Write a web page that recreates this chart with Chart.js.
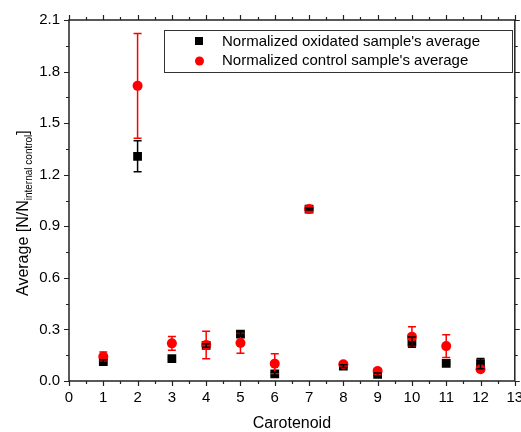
<!DOCTYPE html>
<html lang="en">
<head>
  <meta charset="UTF-8">
  <title>Carotenoid averages</title>
  <script src="https://cdn.jsdelivr.net/npm/chart.js"></script>
  <style>
    html, body { margin: 0; padding: 0; background: #fff; }
    #wrap { width: 521px; height: 432px; }
  </style>
</head>
<body>
<div id="wrap"><canvas id="chart" width="521" height="432"></canvas></div>
<script>
  const carotenoids = [1, 2, 3, 4, 5, 6, 7, 8, 9, 10, 11, 12];
  const oxidated    = [0.113, 1.307, 0.130, 0.207, 0.273, 0.041, 1.000, 0.087, 0.039, 0.226, 0.103, 0.101];
  const oxidatedErr = [0.010, 0.090, 0.006, 0.010, 0.012, 0.010, 0.005, 0.008, 0.008, 0.030, 0.006, 0.030];
  const control     = [0.143, 1.717, 0.219, 0.210, 0.221, 0.101, 1.000, 0.097, 0.058, 0.258, 0.203, 0.068];
  const controlErr  = [0.025, 0.305, 0.040, 0.080, 0.060, 0.058, 0.005, 0.010, 0.015, 0.058, 0.066, 0.005];
  const legendLabels = ["Normalized oxidated sample's average", "Normalized control sample's average"];

  const FONT = 'Arial, "Liberation Sans", sans-serif';

  const toPoints = (ys) => carotenoids.map((x, i) => ({ x: x, y: ys[i] }));

  // error bars, minor ticks, frame, titles and legend
  const decor = {
    id: 'decor',
    afterDatasetsDraw(chart) {
      const ctx = chart.ctx, xs = chart.scales.x, ys = chart.scales.y;
      const sets = [
        { vals: control, errs: controlErr, color: '#ff0000' },
        { vals: oxidated, errs: oxidatedErr, color: '#000000' }
      ];
      ctx.save();
      ctx.lineWidth = 1.5;
      sets.forEach(s => {
        ctx.strokeStyle = s.color;
        carotenoids.forEach((c, i) => {
          const px = xs.getPixelForValue(c);
          const top = ys.getPixelForValue(s.vals[i] + s.errs[i]);
          const bot = ys.getPixelForValue(s.vals[i] - s.errs[i]);
          ctx.beginPath();
          ctx.moveTo(px, top); ctx.lineTo(px, bot);
          ctx.moveTo(px - 4, top); ctx.lineTo(px + 4, top);
          ctx.moveTo(px - 4, bot); ctx.lineTo(px + 4, bot);
          ctx.stroke();
        });
      });
      ctx.restore();
    },
    afterDraw(chart) {
      const ctx = chart.ctx, a = chart.chartArea, xs = chart.scales.x, ys = chart.scales.y;
      ctx.save();
      ctx.strokeStyle = '#222';
      ctx.lineWidth = 1.5;
      ctx.strokeRect(a.left, a.top, a.right - a.left, a.bottom - a.top);

      // tick marks, outward on all four sides
      ctx.lineWidth = 1.2;
      ctx.beginPath();
      for (let v = 0; v <= 13.001; v += 0.5) {
        const px = Math.round(xs.getPixelForValue(v)) + 0.5;
        const len = Math.abs(v - Math.round(v)) < 1e-6 ? 5 : 3;
        ctx.moveTo(px, a.bottom); ctx.lineTo(px, a.bottom + len);
        ctx.moveTo(px, a.top); ctx.lineTo(px, a.top - len);
      }
      for (let k = 0; k <= 14; k++) {
        const v = k * 0.15;
        const py = Math.round(ys.getPixelForValue(v)) + 0.5;
        const len = k % 2 === 0 ? 5 : 3;
        ctx.moveTo(a.left, py); ctx.lineTo(a.left - len, py);
        ctx.moveTo(a.right, py); ctx.lineTo(a.right + len, py);
      }
      ctx.stroke();

      // axis titles
      ctx.fillStyle = '#000';
      ctx.font = '16px ' + FONT;
      ctx.textAlign = 'center';
      ctx.textBaseline = 'middle';
      ctx.fillText('Carotenoid', (a.left + a.right) / 2, 424);

      ctx.save();
      ctx.translate(22, 0);
      ctx.rotate(-Math.PI / 2);
      const partA = 'Average [N/N', partB = 'internal control', partC = ']';
      ctx.font = '16px ' + FONT;
      const wA = ctx.measureText(partA).width;
      ctx.font = '10px ' + FONT;
      const wB = ctx.measureText(partB).width;
      const x0 = -296;
      ctx.textAlign = 'left';
      ctx.textBaseline = 'alphabetic';
      ctx.font = '16px ' + FONT;
      ctx.fillText(partA, x0, 6);
      ctx.font = '10px ' + FONT;
      ctx.fillText(partB, x0 + wA, 10);
      ctx.font = '16px ' + FONT;
      ctx.fillText(partC, x0 + wA + wB, 6);
      ctx.restore();

      // legend box
      ctx.lineWidth = 1;
      ctx.strokeStyle = '#333';
      ctx.strokeRect(164.5, 30.5, 348, 42);
      ctx.fillStyle = '#000';
      ctx.fillRect(195, 37, 8, 8);
      ctx.fillStyle = '#ff0000';
      ctx.beginPath();
      ctx.arc(199.5, 61, 4.5, 0, Math.PI * 2);
      ctx.fill();
      ctx.fillStyle = '#000';
      ctx.font = '15px ' + FONT;
      ctx.textAlign = 'left';
      ctx.textBaseline = 'middle';
      ctx.fillText(legendLabels[0], 222, 42);
      ctx.fillText(legendLabels[1], 222, 61);
      ctx.restore();
    }
  };

  new Chart(document.getElementById('chart'), {
    type: 'scatter',
    data: {
      datasets: [
        {
          label: legendLabels[0],
          data: toPoints(oxidated),
          pointStyle: 'rect',
          pointRadius: 6.2,
          pointHoverRadius: 6.2,
          backgroundColor: '#000',
          borderColor: '#000',
          borderWidth: 0,
          order: 2
        },
        {
          label: legendLabels[1],
          data: toPoints(control),
          pointStyle: 'circle',
          pointRadius: 5,
          pointHoverRadius: 5,
          backgroundColor: '#ff0000',
          borderColor: '#ff0000',
          borderWidth: 0,
          order: 1
        }
      ]
    },
    options: {
      responsive: false,
      animation: false,
      events: [],
      layout: { padding: { top: 20, right: 4, left: 0, bottom: 0 } },
      plugins: { legend: { display: false }, tooltip: { enabled: false } },
      scales: {
        x: {
          type: 'linear',
          min: 0, max: 13,
          grid: { display: false, drawTicks: false, tickLength: 0 },
          border: { display: false },
          ticks: { stepSize: 1, padding: 8, color: '#000', font: { size: 15, family: FONT }, maxRotation: 0 },
          afterFit(s) { s.height = 51; s.paddingLeft = 0; s.paddingRight = 0; }
        },
        y: {
          min: 0, max: 2.1,
          grid: { display: false, drawTicks: false, tickLength: 0 },
          border: { display: false },
          ticks: { stepSize: 0.3, padding: 9, color: '#000', font: { size: 15, family: FONT },
                   callback: v => v.toFixed(1) },
          afterFit(s) { s.width = 69; s.paddingTop = 0; s.paddingBottom = 0; }
        }
      }
    },
    plugins: [decor]
  });
</script>
</body>
</html>
